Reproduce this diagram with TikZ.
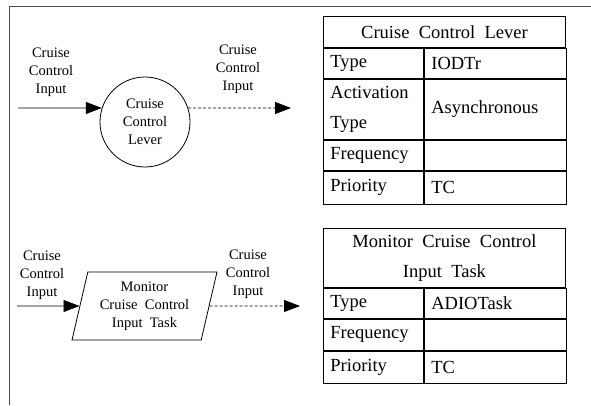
\documentclass[tikz,border=0pt]{standalone}
\usepackage{fontspec}
\setmainfont{Liberation Serif}
\usetikzlibrary{arrows.meta,shapes.geometric,positioning}
\tikzstyle{flow} = [draw,line width=0.8pt,-{Triangle[length=16pt,width=12pt]}]
\tikzstyle{dflow} = [flow,densely dashed]
\tikzstyle{lbl} = [align=center,font=\fontsize{14.5}{18}\selectfont,inner sep=0pt]
\tikzstyle{head} = [draw,line width=0.9pt,anchor=north west,minimum width=242pt,align=center,inner sep=0pt,font=\fontsize{18.5}{30}\selectfont]
\tikzstyle{key} = [draw,line width=0.9pt,anchor=north west,text width=86pt,inner xsep=7pt,inner ysep=0pt,align=left,font=\fontsize{18.5}{30}\selectfont]
\tikzstyle{val} = [draw,line width=0.9pt,anchor=north west,text width=128pt,inner xsep=7pt,inner ysep=0pt,align=left,font=\fontsize{18.5}{30}\selectfont]

\begin{document}
\begin{tikzpicture}[x=1pt,y=-1pt]
    \useasboundingbox (0,0) rectangle (591,405);
    % frame
    \draw[black!70,line width=0.9pt] (9,405) -- (9,6) -- (591,6);

    % Upper part: the lever
    \node[circle,draw,line width=0.8pt,minimum size=90pt,inner sep=0pt,lbl] (lever) at (145,122) {Cruise\\Control\\Lever};
    \coordinate (inA) at (18,108);
    \coordinate (outA) at (291,108);
    \draw[flow] (inA) -- (lever.162);
    \draw[dflow] (lever.18) -- (outA);
    \node[lbl] (inALabel) at (51,72) {Cruise\\Control\\Input};
    \node[lbl] (outALabel) at (238,69) {Cruise\\Control\\Input};

    % Upper table
    \node[head,minimum height=31pt] (levHead) at (323,16) {Cruise\ \ Control\ \ Lever};
    \node[key,minimum height=30pt] (levTypeK) at (levHead.south west) {Type};
    \node[val,minimum height=30pt] (levTypeV) at (levTypeK.north east) {IODTr};
    \node[key,minimum height=60pt] (levActK) at (levTypeK.south west) {Activation\\Type};
    \node[val,minimum height=60pt] (levActV) at (levActK.north east) {Asynchronous};
    \node[key,minimum height=30pt] (levFreqK) at (levActK.south west) {Frequency};
    \node[val,minimum height=30pt] (levFreqV) at (levFreqK.north east) {};
    \node[key,minimum height=33pt] (levPrioK) at (levFreqK.south west) {Priority};
    \node[val,minimum height=33pt] (levPrioV) at (levPrioK.north east) {TC};

    % Lower part: the task
    \node[trapezium,draw,line width=0.8pt,trapezium left angle=72,trapezium right angle=108,trapezium stretches body,
          minimum width=145pt,minimum height=68pt,inner sep=0pt,lbl] (task) at (144.5,306)
          {Monitor\\Cruise\ \ Control\\Input\ \ Task};
    \coordinate (inB) at (17,306);
    \coordinate (outB) at (300,306);
    \draw[flow] (inB) -- (task);
    \draw[dflow] (task.east) -- (outB);
    \node[lbl] (inBLabel) at (42,275) {Cruise\\Control\\Input};
    \node[lbl] (outBLabel) at (248,274) {Cruise\\Control\\Input};

    % Lower table
    \node[head,minimum height=59pt] (taskHead) at (323,228) {Monitor\ \ Cruise\ \ Control\\Input\ \ Task};
    \node[key,minimum height=30pt] (taskTypeK) at (taskHead.south west) {Type};
    \node[val,minimum height=30pt] (taskTypeV) at (taskTypeK.north east) {ADIOTask};
    \node[key,minimum height=31pt] (taskFreqK) at (taskTypeK.south west) {Frequency};
    \node[val,minimum height=31pt] (taskFreqV) at (taskFreqK.north east) {};
    \node[key,minimum height=32pt] (taskPrioK) at (taskFreqK.south west) {Priority};
    \node[val,minimum height=32pt] (taskPrioV) at (taskPrioK.north east) {TC};
\end{tikzpicture}
\end{document}
